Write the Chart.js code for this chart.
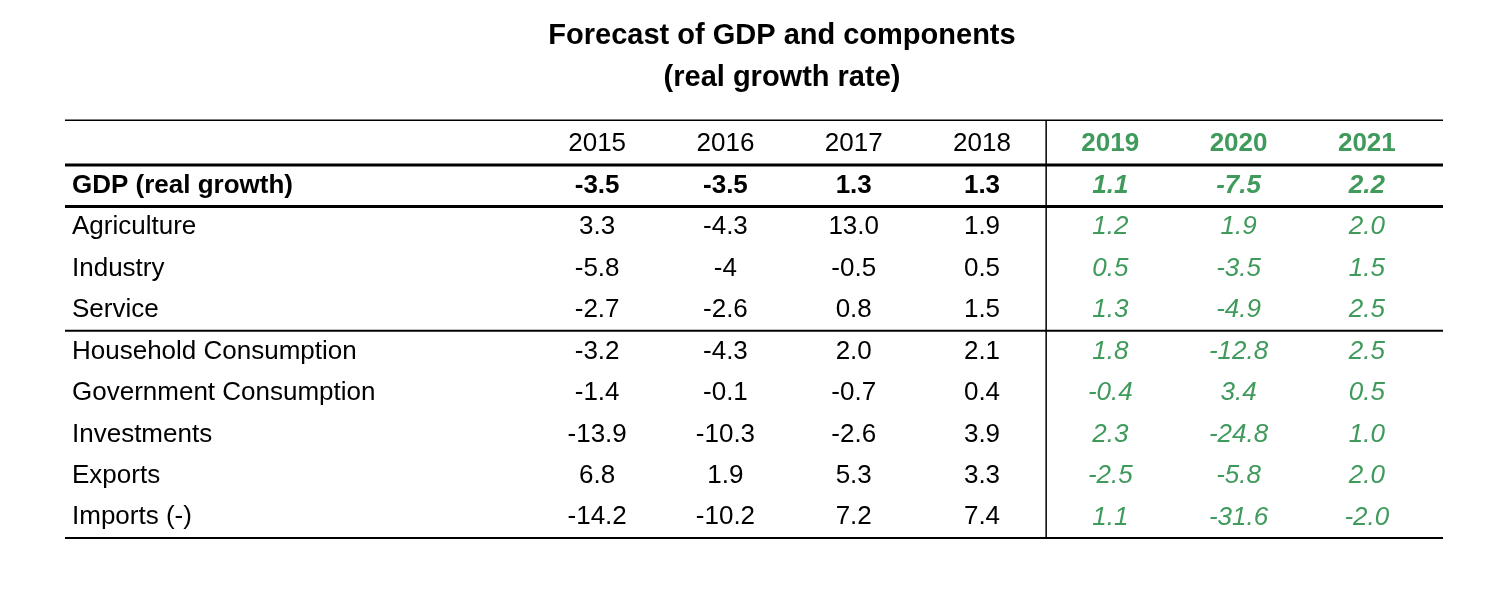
<!DOCTYPE html>
<html>
<head>
<meta charset="utf-8">
<script src="https://cdn.jsdelivr.net/npm/chart.js@4.4.0/dist/chart.umd.min.js"></script>
<style>
  html, body { margin: 0; padding: 0; background: #fff; }
  #wrap { width: 1508px; height: 598px; }
</style>
</head>
<body>
<div id="wrap"><canvas id="tbl"></canvas></div>
<script>
let years = ["2015", "2016", "2017", "2018", "2019", "2020", "2021"];
let forecastYears = ["2019", "2020", "2021"];
let rows = ["GDP (real growth)", "Agriculture", "Industry", "Service", "Household Consumption",
  "Government Consumption", "Investments", "Exports", "Imports (-)"];
let gdp = ["-3.5", "-3.5", "1.3", "1.3", "1.1", "-7.5", "2.2"];
let agriculture = ["3.3", "-4.3", "13.0", "1.9", "1.2", "1.9", "2.0"];
let industry = ["-5.8", "-4", "-0.5", "0.5", "0.5", "-3.5", "1.5"];
let service = ["-2.7", "-2.6", "0.8", "1.5", "1.3", "-4.9", "2.5"];
let household = ["-3.2", "-4.3", "2.0", "2.1", "1.8", "-12.8", "2.5"];
let government = ["-1.4", "-0.1", "-0.7", "0.4", "-0.4", "3.4", "0.5"];
let investments = ["-13.9", "-10.3", "-2.6", "3.9", "2.3", "-24.8", "1.0"];
let exportsRow = ["6.8", "1.9", "5.3", "3.3", "-2.5", "-5.8", "2.0"];
let imports = ["-14.2", "-10.2", "7.2", "7.4", "1.1", "-31.6", "-2.0"];
let table = [gdp, agriculture, industry, service, household, government, investments, exportsRow, imports];

let green = "#3f9a5b";
let font = "Liberation Sans, Arial, sans-serif";

let datasets = years.map((yr, c) => ({
  label: yr,
  data: rows.map((r, i) => ({ x: yr, y: r, v: table[i][c] })),
  pointRadius: 0,
  showLine: false,
}));

let tablePlugin = {
  id: "tablePlugin",
  afterDraw(chart) {
    let ctx = chart.ctx;
    let xs = chart.scales.x, ys = chart.scales.y;
    let step = ys.getPixelForValue(1) - ys.getPixelForValue(0);
    let left = 65, right = 1443;
    let top = ys.getPixelForValue(0) - step * 1.58;
    let hdrY = ys.getPixelForValue(0) - step * 1.02;
    ctx.save();
    // title
    ctx.fillStyle = "#000";
    ctx.textAlign = "center";
    ctx.textBaseline = "middle";
    ctx.font = "bold 29px " + font;
    ctx.fillText("Forecast of GDP and components", 782, 36);
    ctx.fillText("(real growth rate)", 782, 78);
    // header
    years.forEach((yr, c) => {
      let fc = forecastYears.includes(yr);
      ctx.font = (fc ? "bold " : "") + "26px " + font;
      ctx.fillStyle = fc ? green : "#000";
      ctx.fillText(yr, xs.getPixelForValue(c), hdrY);
    });
    // cells
    chart.data.datasets.forEach((ds, c) => {
      let meta = chart.getDatasetMeta(c);
      let fc = forecastYears.includes(ds.label);
      meta.data.forEach((pt, i) => {
        let bold = i === 0;
        ctx.font = (fc ? "italic " : "") + (bold ? "bold " : "") + "26px " + font;
        ctx.fillStyle = fc ? green : "#000";
        ctx.textAlign = "center";
        ctx.fillText(ds.data[i].v, pt.x, pt.y);
      });
    });
    // row labels
    rows.forEach((r, i) => {
      ctx.font = (i === 0 ? "bold " : "") + "26px " + font;
      ctx.fillStyle = "#000";
      ctx.textAlign = "left";
      ctx.fillText(r, 72, ys.getPixelForValue(i));
    });
    // rules
    let rule = (y, w) => {
      ctx.beginPath();
      ctx.lineWidth = w;
      ctx.strokeStyle = "#000";
      ctx.moveTo(left, y);
      ctx.lineTo(right, y);
      ctx.stroke();
    };
    let between = (i) => (ys.getPixelForValue(i) + ys.getPixelForValue(i + 1)) / 2;
    rule(top, 1.5);
    rule(ys.getPixelForValue(0) - step / 2, 3);
    rule(between(0), 3);
    rule(between(3), 2);
    let bottom = ys.getPixelForValue(rows.length - 1) + step / 2;
    rule(bottom, 2);
    let vx = (xs.getPixelForValue(3) + xs.getPixelForValue(4)) / 2;
    ctx.beginPath();
    ctx.lineWidth = 1.5;
    ctx.moveTo(vx, top);
    ctx.lineTo(vx, bottom);
    ctx.stroke();
    ctx.restore();
  },
};

let tbl = new Chart(document.getElementById("tbl").getContext("2d"), {
  type: "scatter",
  data: { datasets: datasets },
  options: {
    responsive: true,
    maintainAspectRatio: false,
    animation: false,
    layout: { padding: { left: 533, right: 77, top: 165, bottom: 60 } },
    plugins: { legend: { display: false }, tooltip: { enabled: false } },
    scales: {
      x: { type: "category", labels: years, offset: true, display: false },
      y: { type: "category", labels: rows, offset: true, display: false },
    },
  },
  plugins: [tablePlugin],
});
</script>
</body>
</html>
